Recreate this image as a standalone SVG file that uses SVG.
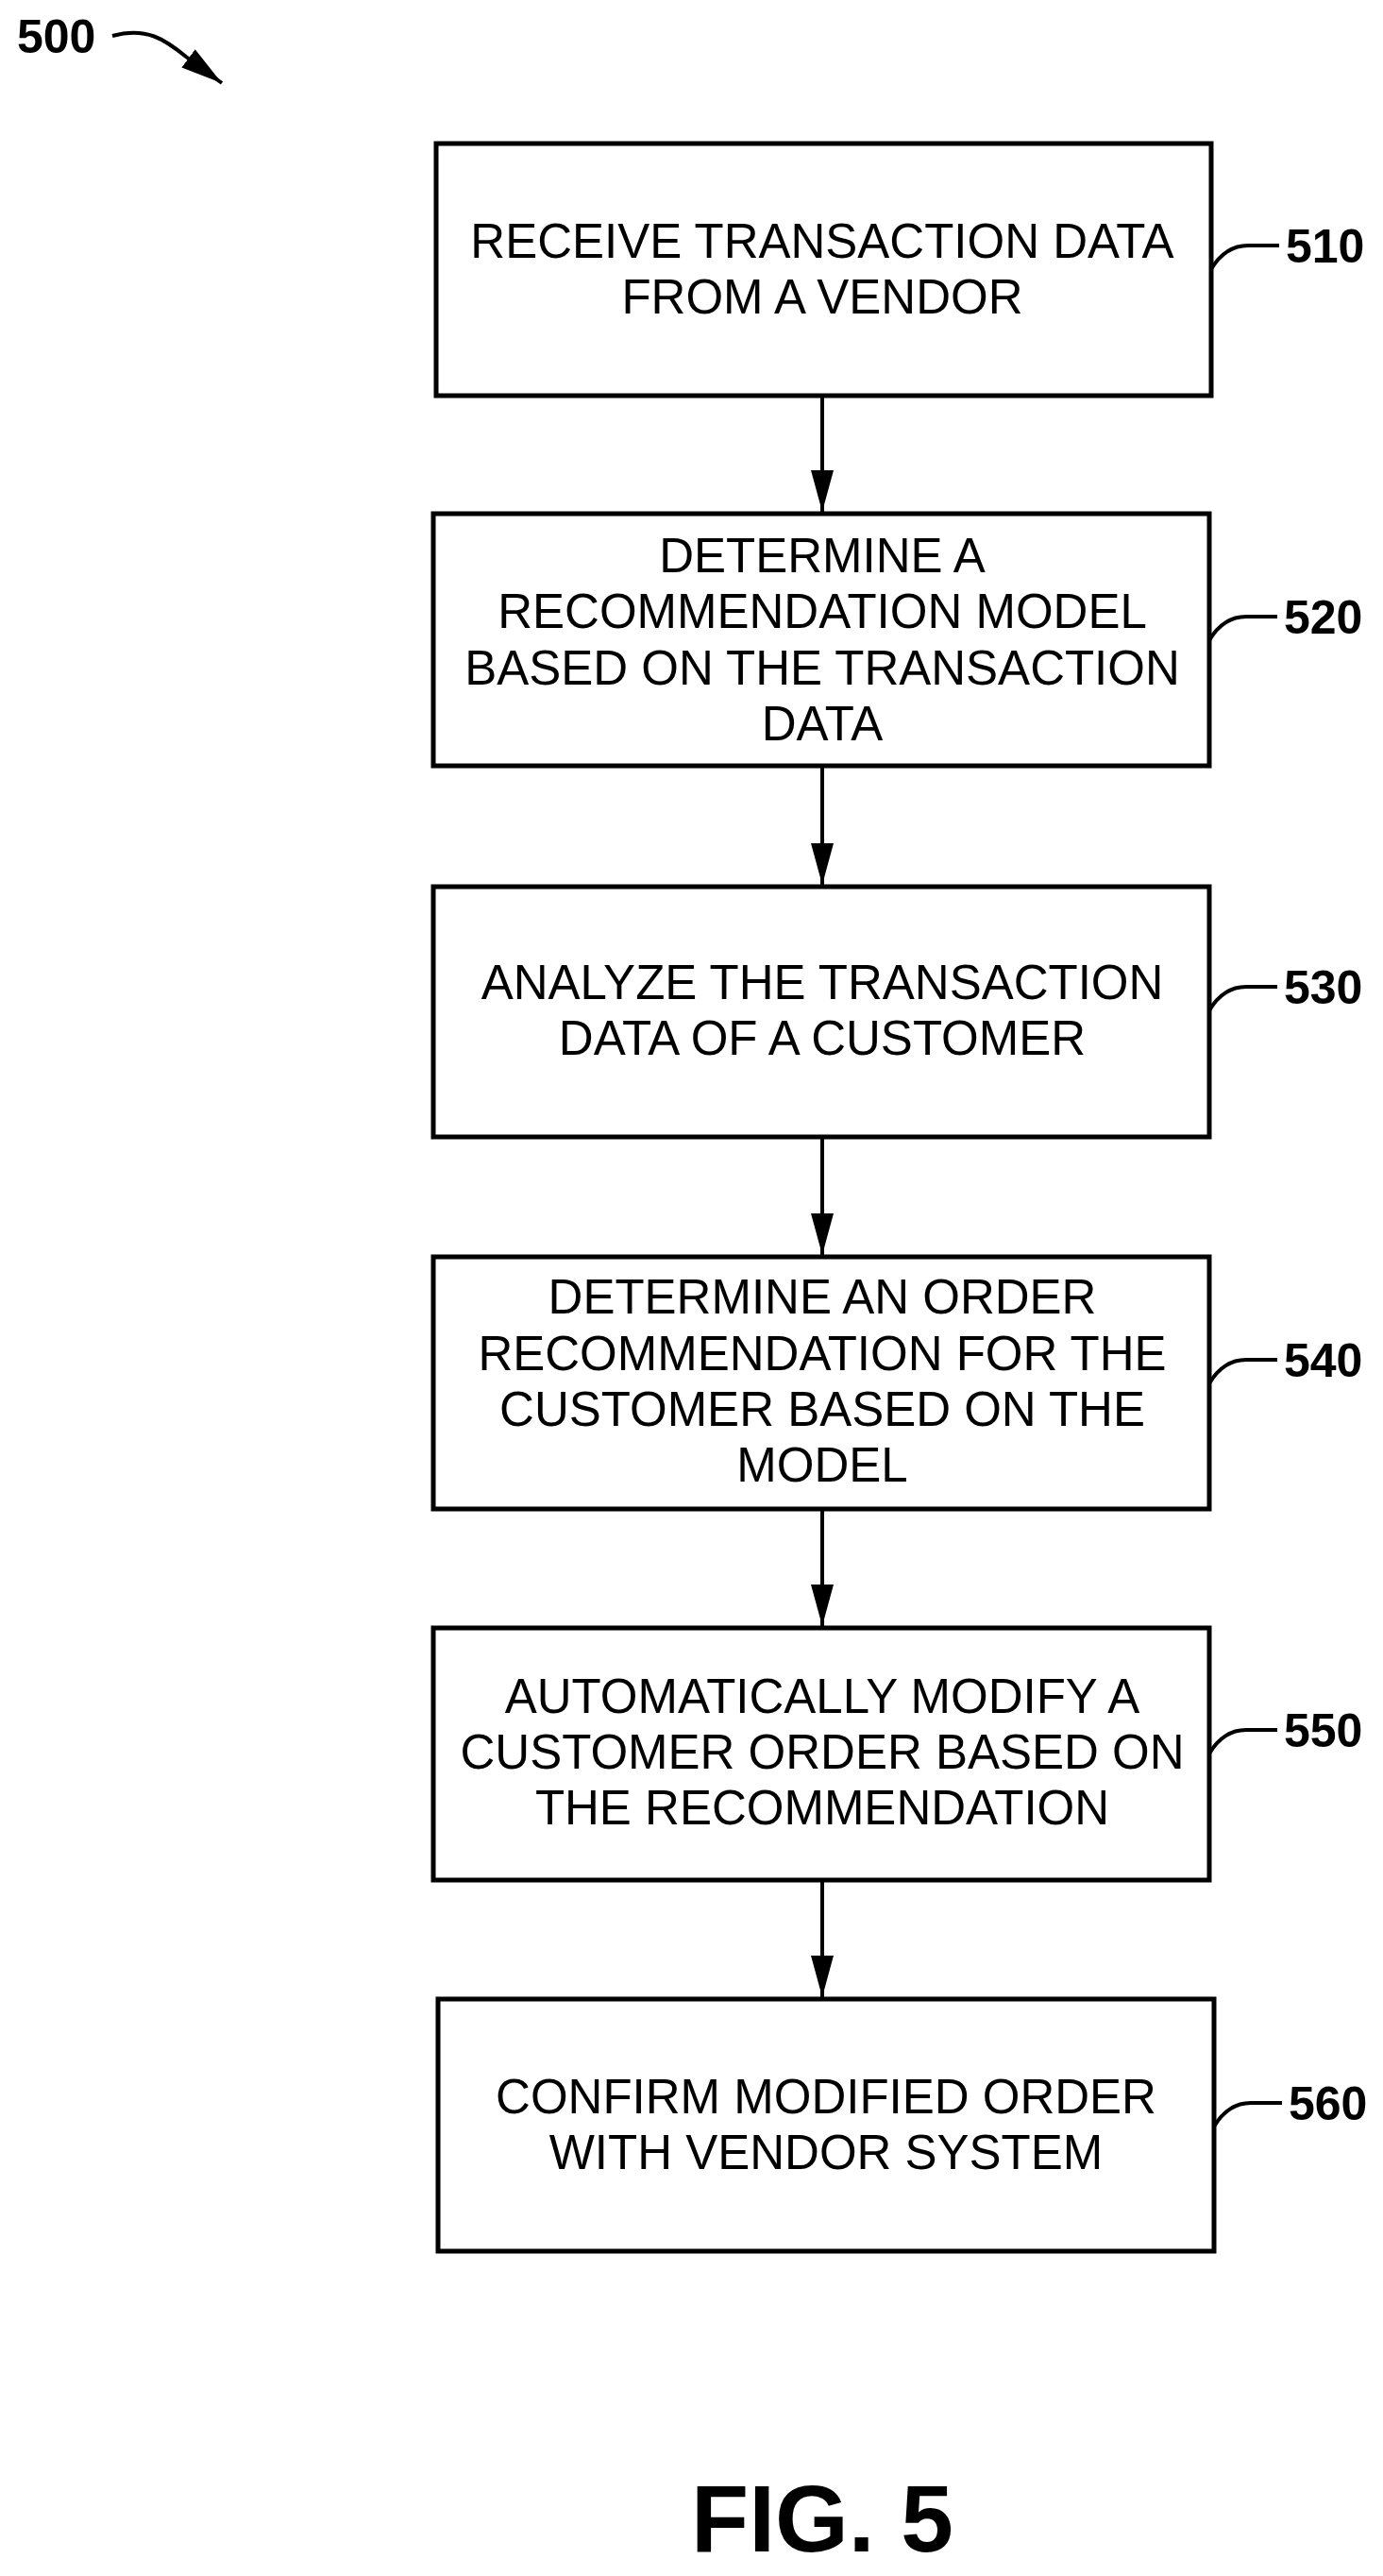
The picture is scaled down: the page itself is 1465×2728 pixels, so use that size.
<svg xmlns="http://www.w3.org/2000/svg" width="1465" height="2728" viewBox="0 0 1465 2728">
<style>
.box{fill:#fff;stroke:#000;stroke-width:5}
.t{font-family:"Liberation Sans",Arial,sans-serif;font-size:51px;text-anchor:middle;fill:#000}
.lb{font-family:"Liberation Sans",Arial,sans-serif;font-size:50px;font-weight:bold;fill:#000}
.ln{fill:none;stroke:#000;stroke-width:4}
</style>
<defs>
<marker id="ah2" viewBox="0 0 10 10" refX="10" refY="5" markerWidth="44" markerHeight="24" orient="auto" markerUnits="userSpaceOnUse" preserveAspectRatio="none"><path d="M0,0 L10,5 L0,10 Z" fill="#000"/></marker>
</defs>
<g id="ref500">
<text class="lb" x="18" y="56">500</text>
<path class="ln" d="M119,38 C155,28 175,42 197,60 L235,88" marker-end="url(#ah2)"/>
</g>
<g id="connectors">
<line class="ln" x1="871" y1="419" x2="871" y2="542" marker-end="url(#ah2)"/>
<line class="ln" x1="871" y1="811" x2="871" y2="937" marker-end="url(#ah2)"/>
<line class="ln" x1="871" y1="1204" x2="871" y2="1329" marker-end="url(#ah2)"/>
<line class="ln" x1="871" y1="1598" x2="871" y2="1722" marker-end="url(#ah2)"/>
<line class="ln" x1="871" y1="1991" x2="871" y2="2115" marker-end="url(#ah2)"/>
</g>
<g id="n510">
<rect class="box" x="462" y="152" width="821" height="267"/>
<text class="t" x="871" y="273">RECEIVE TRANSACTION DATA</text>
<text class="t" x="871" y="332">FROM A VENDOR</text>
<path class="ln" d="M1283,285 Q1298,260 1322,260 L1355,260"/>
<text class="lb" x="1362" y="278">510</text>
</g>
<g id="n520">
<rect class="box" x="459" y="544" width="822" height="267"/>
<text class="t" x="871" y="606">DETERMINE A</text>
<text class="t" x="871" y="665">RECOMMENDATION MODEL</text>
<text class="t" x="871" y="725">BASED ON THE TRANSACTION</text>
<text class="t" x="871" y="784">DATA</text>
<path class="ln" d="M1281,678 Q1296,653 1320,653 L1353,653"/>
<text class="lb" x="1360" y="671">520</text>
</g>
<g id="n530">
<rect class="box" x="459" y="939" width="822" height="265"/>
<text class="t" x="871" y="1058">ANALYZE THE TRANSACTION</text>
<text class="t" x="871" y="1117">DATA OF A CUSTOMER</text>
<path class="ln" d="M1281,1070 Q1296,1045 1320,1045 L1353,1045"/>
<text class="lb" x="1360" y="1063">530</text>
</g>
<g id="n540">
<rect class="box" x="459" y="1331" width="822" height="267"/>
<text class="t" x="871" y="1391">DETERMINE AN ORDER</text>
<text class="t" x="871" y="1451">RECOMMENDATION FOR THE</text>
<text class="t" x="871" y="1510">CUSTOMER BASED ON THE</text>
<text class="t" x="871" y="1569">MODEL</text>
<path class="ln" d="M1281,1465 Q1296,1440 1320,1440 L1353,1440"/>
<text class="lb" x="1360" y="1458">540</text>
</g>
<g id="n550">
<rect class="box" x="459" y="1724" width="822" height="267"/>
<text class="t" x="871" y="1814">AUTOMATICALLY MODIFY A</text>
<text class="t" x="871" y="1873">CUSTOMER ORDER BASED ON</text>
<text class="t" x="871" y="1932">THE RECOMMENDATION</text>
<path class="ln" d="M1281,1857 Q1296,1832 1320,1832 L1353,1832"/>
<text class="lb" x="1360" y="1850">550</text>
</g>
<g id="n560">
<rect class="box" x="464" y="2117" width="822" height="267"/>
<text class="t" x="875" y="2238">CONFIRM MODIFIED ORDER</text>
<text class="t" x="875" y="2297">WITH VENDOR SYSTEM</text>
<path class="ln" d="M1286,2252 Q1301,2227 1325,2227 L1358,2227"/>
<text class="lb" x="1365" y="2245">560</text>
</g>
<text x="871" y="2702" font-family="Liberation Sans,Arial,sans-serif" font-size="100" font-weight="bold" text-anchor="middle">FIG. 5</text>
</svg>
